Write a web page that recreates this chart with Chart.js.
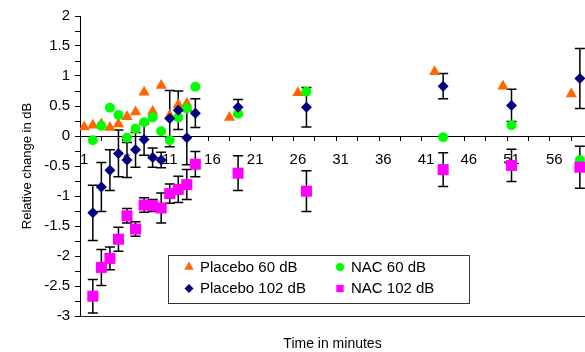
<!DOCTYPE html>
<html>
<head>
<meta charset="utf-8">
<title>Relative change in dB</title>
<script src="https://cdn.jsdelivr.net/npm/chart.js"></script>
<style>
    html, body { margin: 0; padding: 0; background: #fff; }
    #wrap { width: 585px; height: 352px; }
</style>
</head>
<body>
<div id="wrap"><canvas id="hearingChart" width="585" height="352"></canvas></div>
<script>
// time points in minutes (placebo 60 dB was plotted one minute earlier)
var placebo60Time = [1, 2, 3, 4, 5, 6, 7, 8, 9, 10, 11, 12, 13, 18, 26, 42, 50, 58];
var treatTime = [2, 3, 4, 5, 6, 7, 8, 9, 10, 11, 12, 13, 14, 19, 27, 43, 51, 59];

// relative change in dB
var placebo60 = [0.15, 0.18, 0.2, 0.14, 0.2, 0.32, 0.4, 0.73, 0.41, 0.84, 0.34, 0.52, 0.54, 0.31, 0.72, 1.07, 0.83, 0.7];
var nac60 = [-0.07, 0.17, 0.47, 0.35, -0.03, 0.12, 0.23, 0.31, 0.08, -0.07, 0.31, 0.46, 0.82, 0.37, 0.74, -0.02, 0.18, -0.4];
var placebo102 = [-1.28, -0.85, -0.57, -0.29, -0.4, -0.23, -0.06, -0.36, -0.4, 0.29, 0.43, -0.03, 0.38, 0.48, 0.48, 0.83, 0.51, 0.96];
var nac102 = [-2.67, -2.19, -2.04, -1.72, -1.33, -1.55, -1.15, -1.16, -1.2, -0.96, -0.89, -0.81, -0.47, -0.62, -0.92, -0.56, -0.49, -0.52];

// error bar half lengths
var placebo102Err = [0.46, 0.41, 0.34, 0.39, 0.29, 0.29, 0.26, 0.16, 0.13, 0.47, 0.32, 0.45, 0.24, 0.13, 0.33, 0.21, 0.27, 0.5];
var nac102Err = [0.28, 0.3, 0.19, 0.2, 0.12, 0.12, 0.12, 0.1, 0.25, 0.16, 0.22, 0.25, 0.21, 0.29, 0.34, 0.28, 0.27, 0.35];

// tick labels
var xTickLabels = [1, 6, 11, 16, 21, 26, 31, 36, 41, 46, 51, 56];
var yTickLabels = [-3, -2.5, -2, -1.5, -1, -0.5, 0, 0.5, 1, 1.5, 2];

window.onload = function() {

    var FONT = "'Liberation Sans', Arial, sans-serif";

    function points(times, vals) {
        return times.map(function(t, i) { return {x: t, y: vals[i]}; });
    }

    // unlabeled tick marks on x every 2.5, on y every 0.25
    var xMarks = [];
    for (var m = 0.5; m <= 58.01; m += 2.5) xMarks.push(m);
    var yMarks = [];
    for (var k = -3; k <= 2.001; k += 0.25) yMarks.push(Math.round(k * 100) / 100);

    var errorBars = {
        id: 'errorBars',
        beforeDatasetsDraw: function(chart) {
            var ctx = chart.ctx;
            var xs = chart.scales.x, ys = chart.scales.y;
            var area = chart.chartArea;
            ctx.save();
            ctx.beginPath();
            ctx.rect(area.left, area.top, area.right - area.left, area.bottom - area.top);
            ctx.clip();
            ctx.strokeStyle = '#000';
            ctx.lineWidth = 1.5;
            chart.data.datasets.forEach(function(ds) {
                if (!ds.errors) return;
                ds.data.forEach(function(p, i) {
                    var e = ds.errors[i];
                    var px = xs.getPixelForValue(p.x);
                    var top = ys.getPixelForValue(p.y + e);
                    var bot = ys.getPixelForValue(p.y - e);
                    ctx.beginPath();
                    ctx.moveTo(px, top); ctx.lineTo(px, bot);
                    ctx.moveTo(px - 5, top); ctx.lineTo(px + 5, top);
                    ctx.moveTo(px - 5, bot); ctx.lineTo(px + 5, bot);
                    ctx.stroke();
                });
            });
            ctx.restore();
        }
    };

    // legend box sitting inside the plot, 2 x 2
    var boxLegend = {
        id: 'boxLegend',
        afterDraw: function(chart) {
            var ctx = chart.ctx;
            var area = chart.chartArea;
            var left = area.left + 88, top = area.top + 239, w = 301, h = 48;
            ctx.save();
            ctx.fillStyle = '#fff';
            ctx.fillRect(left, top, w, h);
            ctx.strokeStyle = '#333';
            ctx.lineWidth = 1;
            ctx.strokeRect(left + 0.5, top + 0.5, w, h);
            ctx.font = '15px ' + FONT;
            ctx.textBaseline = 'middle';
            ctx.textAlign = 'left';
            chart.data.datasets.forEach(function(ds, i) {
                var row = i < 2 ? 0 : 1;
                var col = i % 2;
                var cy = top + 12 + row * 21.5;
                var mx = left + 21 + col * 151;
                ctx.fillStyle = ds.pointBackgroundColor;
                Chart.helpers.drawPoint(ctx, {pointStyle: ds.pointStyle, radius: ds.legendRadius, rotation: 0, borderWidth: 0}, mx, cy);
                ctx.fillStyle = '#000';
                ctx.fillText(ds.label, mx + 11, cy + 0.5);
            });
            ctx.restore();
        }
    };

    var ctx = document.getElementById('hearingChart').getContext('2d');
    var hearingChart = new Chart(ctx, {
        type: 'scatter',
        data: {
            datasets: [{
                label: 'Placebo 60 dB',
                data: points(placebo60Time, placebo60),
                pointStyle: 'triangle',
                pointRadius: 6.5,
                legendRadius: 5.5,
                pointBackgroundColor: '#ff6600',
                pointBorderWidth: 0,
                order: 4
            },{
                label: 'NAC 60 dB',
                data: points(treatTime, nac60),
                pointStyle: 'circle',
                pointRadius: 5,
                legendRadius: 4,
                pointBackgroundColor: '#00ff00',
                pointBorderWidth: 0,
                order: 3
            },{
                label: 'Placebo 102 dB',
                data: points(treatTime, placebo102),
                errors: placebo102Err,
                pointStyle: 'rectRot',
                pointRadius: 5.5,
                legendRadius: 4.5,
                pointBackgroundColor: '#000080',
                pointBorderWidth: 0,
                order: 2
            },{
                label: 'NAC 102 dB',
                data: points(treatTime, nac102),
                errors: nac102Err,
                pointStyle: 'rect',
                pointRadius: 7.8,
                legendRadius: 5.2,
                pointBackgroundColor: '#ff00ff',
                pointBorderWidth: 0,
                order: 1
            }]
        },
        options: {
            responsive: false,
            animation: false,
            events: [],
            // no extra room for point overflow, plot runs to the right edge
            layout: { autoPadding: false, padding: { top: 16, right: 0, bottom: 0, left: 0 } },
            plugins: {
                legend: { display: false },
                tooltip: { enabled: false }
            },
            scales: {
                x: {
                    type: 'linear',
                    position: { y: 0 },
                    min: 0.5,
                    max: 59.6,
                    afterBuildTicks: function(scale) {
                        var t = xTickLabels.map(function(v) { return {value: v, mark: false}; });
                        xMarks.forEach(function(v) { t.push({value: v, mark: true}); });
                        t.sort(function(a, b) { return a.value - b.value; });
                        scale.ticks = t;
                    },
                    afterFit: function(scale) {
                        scale.paddingLeft = 0;
                        scale.paddingRight = 0;
                    },
                    ticks: {
                        autoSkip: false,
                        maxRotation: 0,
                        minRotation: 0,
                        padding: 11,
                        color: '#000',
                        font: { family: FONT, size: 15 },
                        callback: function(v, i, ticks) { return ticks[i].mark ? '' : String(v); }
                    },
                    grid: {
                        drawOnChartArea: false,
                        tickLength: 4,
                        tickColor: function(c) { return c.tick && c.tick.mark ? '#000' : 'rgba(0,0,0,0)'; }
                    },
                    border: { color: '#000', width: 1 }
                },
                x2: {
                    type: 'linear',
                    position: 'bottom',
                    min: 0.5,
                    max: 59.6,
                    ticks: { display: false },
                    grid: { display: false },
                    border: { color: '#222', width: 1 },
                    title: {
                        display: true,
                        text: 'Time in minutes',
                        color: '#000',
                        font: { family: FONT, size: 14 },
                        padding: { top: 0, bottom: -1 }
                    },
                    afterFit: function(scale) { scale.height = 36; }
                },
                y: {
                    min: -3,
                    max: 2,
                    afterBuildTicks: function(scale) {
                        scale.ticks = yMarks.map(function(v) { return {value: v}; });
                    },
                    afterFit: function(scale) { scale.width = 80; },
                    ticks: {
                        autoSkip: false,
                        padding: 5,
                        color: '#000',
                        font: { family: FONT, size: 15 },
                        callback: function(v) { return yTickLabels.indexOf(v) >= 0 ? String(v) : ''; }
                    },
                    grid: {
                        drawOnChartArea: false,
                        tickLength: 5,
                        tickColor: '#000'
                    },
                    border: { color: '#000', width: 1 },
                    title: {
                        display: true,
                        text: 'Relative change in dB',
                        color: '#000',
                        font: { family: FONT, size: 13 },
                        padding: { top: 20, bottom: 0 }
                    }
                }
            }
        },
        plugins: [errorBars, boxLegend]
    });
}
</script>
</body>
</html>
